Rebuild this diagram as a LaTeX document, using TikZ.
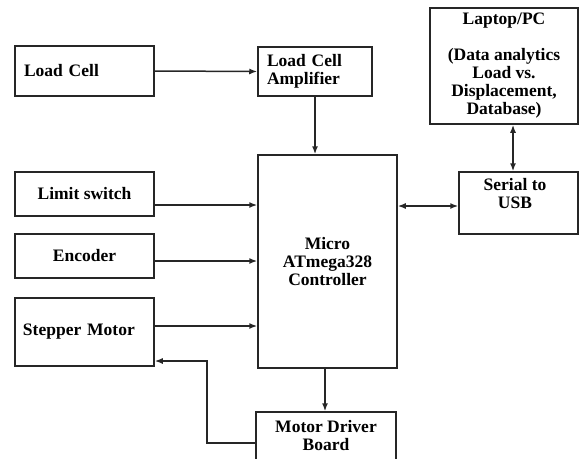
\documentclass[tikz,border=0pt]{standalone}
\usepackage{fontspec}
\setmainfont{Liberation Serif}
\usetikzlibrary{arrows.meta}
\begin{document}
\begin{tikzpicture}[x=1pt,y=-1pt,
  box/.style={draw=black!85,line width=1.5pt,rectangle,inner sep=0pt,
    font=\bfseries\fontsize{17.5}{18}\selectfont,align=center},
  txt/.style={inner sep=0pt,font=\bfseries\fontsize{17.5}{18}\selectfont,align=center},
  conn/.style={draw=black!85,line width=1.5pt,-{Latex[length=8pt,width=6pt]}},
  dconn/.style={draw=black!85,line width=1.5pt,{Latex[length=8pt,width=6pt]}-{Latex[length=8pt,width=6pt]}}]
\useasboundingbox (0,0) rectangle (581,458);
\node[box,minimum width=139pt,minimum height=50pt,text width=121pt,align=left,inner xsep=9pt] (lc) at (84.5,71) {Load Cell};
\node[box,minimum width=114pt,minimum height=49pt,text width=96pt,align=left,inner xsep=9pt] (amp) at (315,71.5) {Load Cell\\Amplifier};
\node[box,minimum width=148pt,minimum height=116pt] (lap) at (504,66) {Laptop/PC\\[18pt](Data analytics\\Load vs.\\Displacement,\\Database)};
\node[box,minimum width=139pt,minimum height=213pt] (ctrl) at (327.5,261.5) {Micro\\ATmega328\\Controller};
\node[box,minimum width=119pt,minimum height=62pt] (usb) at (518.5,203) {};
\node[txt] (usbt) at (515,194) {Serial to\\USB};
\node[box,minimum width=139pt,minimum height=44pt] (lim) at (84.5,194) {Limit switch};
\node[box,minimum width=139pt,minimum height=44pt] (enc) at (84.5,256) {Encoder};
\node[box,minimum width=139pt,minimum height=68pt,text width=123pt,align=left,inner xsep=8pt] (step) at (84.5,332) {Stepper Motor};
\node[box,minimum width=140pt,minimum height=48pt] (mdb) at (326,436) {Motor Driver\\Board};
\coordinate (bend1) at (207,443);
\coordinate (bend2) at (207,361);
\draw[conn] (lc.east) -- (amp.west);
\draw[conn] (amp.south) -- (amp.south |- ctrl.north);
\draw[conn] (lim.east |- 0,205) -- (ctrl.west |- 0,205);
\draw[conn] (enc.east |- 0,261) -- (ctrl.west |- 0,261);
\draw[conn] (step.east |- 0,326) -- (ctrl.west |- 0,326);
\draw[conn] (ctrl.south -| 325,0) -- (mdb.north -| 325,0);
\draw[dconn] (ctrl.east |- 0,206) -- (usb.west |- 0,206);
\draw[dconn] (lap.south -| 513,0) -- (usb.north -| 513,0);
\draw[conn] (mdb.west |- bend1) -- (bend1) -- (bend2) -- (step.east |- bend2);
\end{tikzpicture}
\end{document}
